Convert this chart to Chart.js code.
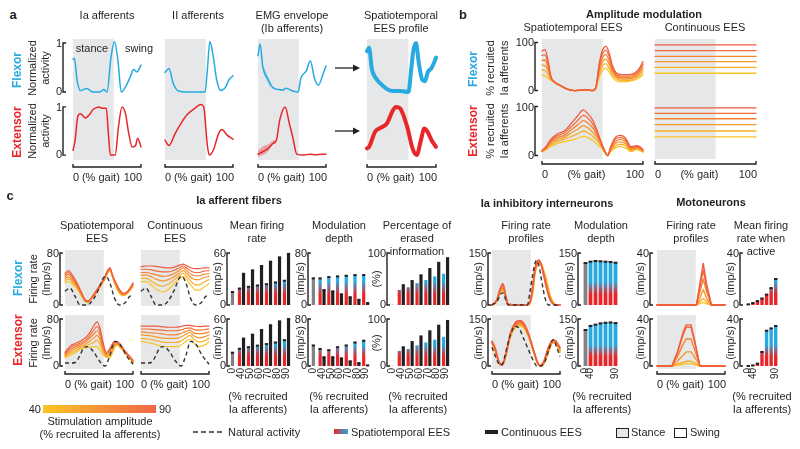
<!DOCTYPE html>
<html>
<head>
<meta charset="utf-8">
<script src="https://cdn.jsdelivr.net/npm/chart.js@4.4.1/dist/chart.umd.min.js"></script>
<style>
  body { margin: 0; width: 800px; height: 449px; position: relative; overflow: hidden; background: #fff;
         font-family: "Liberation Sans", Arial, Helvetica, sans-serif; color: #231F20; }
  canvas { position: absolute; }
  .t { position: absolute; font-size: 11px; line-height: 1; white-space: nowrap; }
  .box { position: absolute; }
</style>
</head>
<body>
<script>
const INK = '#231F20', BLUE = '#27AAE1', RED = '#E8262A', GRAY = '#808285', STANCE = '#E6E7E8';
const AMP_COLORS = ['#F9C423', '#F8AE27', '#F6982C', '#F48332', '#F26E39', '#F05A40']; // 40..90
const AMPS = ['0', '40', '50', '60', '70', '80', '90'];

// ---- panel a (normalized activity) ----
const GAIT_IA_F = [0, 2, 6, 11, 20, 30, 40, 45, 50, 56, 61, 66, 71, 77, 84, 89, 94, 100];
const IA_FLEX = [0.67, 0.69, 0.24, 0.03, 0.07, 0, 0, 0.05, 0, 0.72, 1.03, 0.65, 0, 0.1, 0.3, 0.46, 0.41, 0.55];
const GAIT_IA_E = [0, 3, 7, 11, 18, 23, 30, 38, 43, 49, 52, 55, 62, 67, 72, 77, 82, 87, 92, 95, 100];
const IA_EXT = [0.1, 0.3, 0.8, 0.86, 0.77, 0.82, 0.95, 1.0, 0.97, 0.97, 0.45, 0, 0, 0.6, 1.0, 0.87, 0.45, 0.17, 0.2, 0.35, 0.17];
const GAIT_II_F = [0, 6, 12, 20, 32, 59, 62, 66, 71, 76, 82, 89, 94, 100];
const II_FLEX = [0.4, 0.48, 0.18, 0.02, 0, 0, 0.4, 1.03, 0.72, 0.25, 0.03, 0.1, 0.25, 0.33];
const GAIT_II_E = [0, 6, 15, 22, 32, 42, 53, 57, 62, 65, 71, 79, 84, 91, 100];
const II_EXT = [0.31, 0.2, 0.45, 0.62, 0.83, 0.95, 1.05, 1.0, 0.24, 0, 0.1, 0.45, 0.53, 0.42, 0.33];
const GAIT_EMG_F = [0, 3, 7, 15, 22, 30, 37, 41, 51, 59, 63, 71, 77, 83, 89, 95, 100];
const EMG_FLEX = [0.74, 0.98, 0.52, 0.25, 0.09, 0.05, 0.04, 0.08, 0.02, 0, 0.28, 0.43, 0.64, 0.28, 0.14, 0.34, 0.53];
const GAIT_EMG_FB = [8, 11, 14, 17, 20];
const EMG_FLEX_HI = [0.52, 0.44, 0.34, 0.24, 0.14];
const EMG_FLEX_LO = [0.4, 0.3, 0.2, 0.12, 0.07];
const GAIT_EMG_E = [0, 7, 15, 22, 27, 32, 40, 46, 51, 57, 66, 76, 85, 100];
const EMG_EXT = [0.02, 0.07, 0.14, 0.24, 0.31, 0.73, 1.0, 0.66, 0.38, 0.02, 0, 0.02, 0.01, 0.02];
const GAIT_EMG_EB = [0, 5, 10, 15, 20, 25];
const EMG_EXT_HI = [0.1, 0.16, 0.2, 0.22, 0.28, 0.33];
const EMG_EXT_LO = [-0.04, -0.01, 0.02, 0.08, 0.2, 0.28];
const GAIT_ST_F = [0, 3, 7, 12, 19, 29, 38, 48, 60, 64, 67, 71, 75, 80, 84, 88, 94, 100];
const ST_FLEX = [0.83, 0.9, 0.47, 0.3, 0.18, 0.06, 0.02, 0.02, 0, 0.45, 0.83, 1.0, 0.6, 0.25, 0.22, 0.4, 0.5, 0.7];
const GAIT_ST_E = [0, 3, 12, 19, 29, 38, 42, 48, 58, 66, 72, 78, 83, 87, 94, 100];
const ST_EXT = [0.14, 0.17, 0.49, 0.56, 0.66, 0.94, 1.0, 0.97, 0.6, 0.14, 0, 0.3, 0.55, 0.5, 0.3, 0.17];

// ---- panel b (% recruited Ia afferents), rows = 40..90 ----
const B_GAIT_F = [0, 3, 6, 9, 13, 18, 25, 32, 40, 45, 50, 53, 57, 60, 63, 66, 70, 74, 80, 86, 92, 96, 100];
const B_ST_FLEX = [
  [33, 30, 26, 21, 16, 10, 3, 0, 1, 1, 0, 3, 30, 42, 47, 40, 27, 20, 18, 19, 22, 26, 33],
  [43, 41, 33, 23, 16, 10, 3, 0, 1, 1, 0, 3, 36, 51, 56, 48, 32, 24, 21, 21, 25, 30, 39],
  [53, 52, 41, 24, 16, 10, 3, 0, 1, 1, 0, 4, 42, 60, 66, 57, 37, 27, 24, 24, 28, 34, 45],
  [63, 63, 48, 26, 17, 11, 3, 0, 1, 1, 0, 4, 48, 68, 75, 65, 42, 30, 27, 27, 31, 38, 50],
  [73, 74, 55, 27, 17, 11, 3, 0, 1, 2, 0, 5, 54, 77, 84, 74, 46, 33, 30, 30, 34, 41, 55],
  [82, 85, 62, 28, 17, 11, 3, 0, 1, 2, 0, 5, 60, 85, 92, 82, 50, 36, 33, 33, 37, 45, 60],
];
const B_GAIT_E = [0, 4, 8, 15, 22, 28, 35, 41, 45, 50, 55, 59, 62, 65, 68, 73, 78, 83, 88, 94, 97, 100];
const B_ST_EXT = [
  [8, 12, 18, 24, 28, 31, 35, 39, 37, 31, 22, 15, 6, 0, 8, 16, 18, 15, 8, 12, 10, 7],
  [8, 13, 21, 28, 33, 38, 44, 50, 47, 40, 30, 18, 7, 0, 10, 20, 23, 20, 10, 14, 12, 8],
  [9, 14, 24, 32, 37, 45, 53, 61, 57, 48, 35, 20, 8, 0, 12, 25, 28, 24, 12, 15, 13, 9],
  [9, 16, 26, 36, 41, 51, 62, 71, 67, 57, 40, 22, 9, 0, 14, 29, 33, 28, 14, 17, 15, 10],
  [10, 17, 29, 40, 46, 57, 71, 82, 77, 65, 44, 24, 10, 0, 16, 34, 37, 31, 16, 18, 16, 11],
  [10, 18, 31, 44, 50, 63, 80, 93, 86, 73, 48, 25, 10, 0, 18, 38, 41, 35, 18, 20, 18, 12],
];
const B_CONT_FLEX = [36, 48, 60, 71, 83, 95];
const B_CONT_EXT = [38, 50, 63, 75, 86, 97];

// ---- panel c, Ia afferent firing rates (imp/s) ----
const NAT_GAIT_F = [0, 7, 15, 22, 32, 39, 49, 56, 60, 66, 73, 80, 88, 95, 100];
const NAT_FLEX = [21, 26, 13, 0, 0, 5, 23, 41, 44, 34, 10, 0, 3, 13, 15];
const NAT_GAIT_E = [0, 8, 15, 22, 27, 34, 42, 51, 59, 66, 73, 80, 90, 100];
const NAT_EXT = [5, 5, 6, 18, 30, 33, 24, 8, 0, 18, 42, 38, 18, 3];
const C_GAIT_SF = [0, 5, 12, 18, 24, 29, 34, 40, 46, 52, 58, 62, 66, 70, 74, 80, 86, 92, 100];
const C_ST_FLEX = [
  [34, 36, 31, 24, 14, 6, 4, 11, 19, 28, 38, 47, 53, 42, 30, 18, 14, 18, 28],
  [37, 40, 34, 26, 15, 6.5, 4, 11.5, 19.5, 29, 39, 48, 54, 43, 31.5, 19, 15, 18.5, 29.5],
  [40, 43, 36, 28, 16.5, 7, 4.5, 12, 20, 29.5, 39.5, 49, 55, 44, 33, 20.5, 15.5, 19, 31],
  [43, 47, 39, 29, 18, 7.5, 5, 12, 21, 30, 40, 50, 56, 44.5, 34, 22, 16.5, 20, 32],
  [46, 50, 41, 31, 19, 8, 5.5, 12.5, 21.5, 31, 41, 51, 56.5, 45, 35, 23, 17, 20.5, 33],
  [49, 53, 44, 33, 20, 9, 6, 13, 22, 32, 42, 52, 57, 46, 36, 24, 18, 21, 34],
];
const C_GAIT_SE = [0, 7, 14, 22, 30, 36, 42, 47, 51, 56, 61, 66, 71, 76, 82, 88, 94, 100];
const C_ST_EXT = [
  [14, 18, 22, 28, 31, 32, 33, 33, 28, 19, 15, 14, 26, 36, 30, 23, 14, 5],
  [16, 21, 25, 30, 34, 37, 40, 44, 38, 24, 16, 17, 28, 37, 31, 23, 15, 6],
  [17, 24, 29, 33, 37, 42, 47, 52, 46, 28, 17, 20, 31, 38, 33, 24, 15, 7],
  [19, 27, 32, 36, 41, 47, 54, 60, 53, 32, 19, 24, 34, 40, 34, 25, 16, 8],
  [21, 30, 35, 39, 44, 51, 61, 67, 60, 36, 21, 27, 37, 41, 35, 25, 17, 9],
  [23, 33, 38, 42, 48, 56, 68, 75, 66, 40, 23, 30, 40, 42, 36, 26, 18, 10],
];
const C_GAIT_CF = [0, 8, 16, 24, 32, 40, 48, 56, 62, 68, 74, 80, 86, 92, 100];
const C_CONT_FLEX = [
  [36, 36, 30, 23, 20, 24, 32, 40, 44, 38, 30, 23, 23, 27, 33],
  [41, 41, 36, 31, 29, 32, 38, 45, 49, 43, 36, 31, 31, 35, 39],
  [46, 46, 43, 39, 37, 39, 43, 49, 53, 48, 42, 39, 39, 42, 44],
  [50, 50, 48, 46, 44, 45, 48, 53, 57, 52, 47, 45, 45, 47, 48],
  [55, 55, 54, 52, 51, 51, 53, 57, 60, 56, 52, 50, 50, 52, 53],
  [59, 60, 60, 59, 58, 57, 58, 61, 63, 60, 57, 56, 56, 57, 57],
];
const C_GAIT_CE = [0, 10, 20, 30, 40, 50, 58, 66, 72, 78, 86, 94, 100];
const C_CONT_EXT = [
  [42, 40, 37, 34, 33, 33, 35, 42, 46, 39, 33, 36, 41],
  [47, 46, 44, 41, 40, 40, 42, 48, 52, 45, 41, 43, 47],
  [53, 52, 50, 48, 47, 47, 49, 54, 57, 51, 48, 50, 53],
  [58, 57, 56, 55, 53, 53, 55, 59, 61, 56, 55, 56, 58],
  [63, 63, 62, 61, 60, 60, 61, 64, 65, 62, 61, 62, 63],
  [68, 68, 68, 67, 66, 66, 67, 69, 69, 68, 67, 68, 68],
];

// bars: natural, spatiotemporal 40..90, continuous 40..90
const MFR_FLEX_NAT = 15, MFR_FLEX_ST = [19, 21, 22.5, 24, 26, 28], MFR_FLEX_CONT = [36, 40, 45, 50, 55, 59];
const MFR_EXT_NAT = 17, MFR_EXT_ST = [22, 24, 26, 28, 30, 33], MFR_EXT_CONT = [35, 40, 46, 52, 57, 60];
const MD_FLEX_NAT = 41, MD_FLEX_ST = [41, 43, 44, 45, 46, 46], MD_FLEX_CONT = [23, 21, 16.5, 12, 8, 3];
const MD_EXT_NAT = 35, MD_EXT_ST = [29, 27, 32, 35, 40, 43], MD_EXT_CONT = [15, 15, 13, 8, 5, 1];
const PEI_FLEX_NAT = 0.5, PEI_FLEX_ST = [29, 34, 42, 48, 55, 60], PEI_FLEX_CONT = [40, 48, 59, 71, 83, 92];
const PEI_EXT_NAT = 0.5, PEI_EXT_ST = [32, 36, 44, 50, 56, 62], PEI_EXT_CONT = [42, 53, 65, 76, 88, 98];

// ---- Ia inhibitory interneurons ----
const IN_NAT_GAIT_F = [0, 8, 12, 16, 21, 24, 52, 56, 60, 64, 66, 70, 73, 78, 83, 100];
const IN_NAT_FLEX = [0, 12, 30, 35, 10, 0, 0, 40, 90, 125, 128, 105, 70, 20, 0, 0];
const IN_GAIT_F = [0, 7, 12, 16, 20, 24, 40, 51, 57, 60, 63, 66, 69, 72, 76, 80, 84, 88, 94, 100];
const IN_FLEX = [
  [0, 10, 35, 40, 20, 0, 0, 0, 10, 35, 85, 110, 120, 121, 100, 75, 40, 15, 1, 0],
  [0, 11, 38, 44, 22, 1, 0, 0, 11, 40, 88, 113, 122, 121, 96, 67, 34, 13, 1, 0],
  [0, 12, 40, 48, 24, 1, 0, 0, 12, 45, 92, 115, 124, 121, 93, 62, 30, 11, 0, 0],
  [0, 13, 42, 53, 26, 1, 0, 0, 14, 50, 96, 118, 126, 120, 90, 57, 27, 9, 0, 0],
  [0, 14, 45, 57, 28, 2, 0, 0, 16, 55, 100, 121, 128, 119, 87, 53, 24, 7, 0, 0],
  [0, 15, 48, 62, 30, 2, 0, 0, 18, 60, 105, 125, 130, 118, 85, 50, 22, 6, 0, 0],
];
const IN_NAT_GAIT_E = [0, 6, 12, 16, 22, 28, 34, 40, 46, 52, 58, 63, 66, 72, 78, 84, 90, 95, 100];
const IN_NAT_EXT = [60, 25, 3, 10, 60, 105, 127, 120, 90, 60, 30, 8, 0, 0, 15, 55, 85, 60, 30];
const IN_GAIT_E = [0, 5, 10, 15, 20, 27, 34, 41, 48, 55, 62, 67, 71, 76, 82, 88, 93, 97, 100];
const IN_EXT = [
  [70, 45, 10, 2, 28, 92, 122, 128, 118, 85, 38, 8, 0, 5, 35, 70, 75, 60, 42],
  [72, 47, 11, 2, 29, 94, 124, 131, 121, 87, 39, 9, 0, 7, 40, 72, 77, 62, 46],
  [74, 49, 12, 2, 30, 97, 127, 134, 123, 89, 41, 10, 0, 9, 45, 74, 79, 64, 50],
  [76, 51, 13, 2, 32, 99, 130, 138, 126, 91, 42, 10, 1, 11, 49, 76, 80, 66, 54],
  [78, 53, 14, 3, 33, 102, 134, 141, 129, 93, 44, 11, 1, 13, 52, 78, 81, 68, 57],
  [80, 55, 15, 3, 35, 105, 138, 145, 132, 95, 45, 12, 2, 15, 55, 80, 82, 70, 60],
];
const IN_MD_FLEX_NAT = 121, IN_MD_FLEX_ST = [125, 127, 126, 125, 124, 122];
const IN_MD_EXT_NAT = 115, IN_MD_EXT_ST = [128, 132, 136, 138, 139, 137];

// ---- motoneurons ----
const MN_GAIT_F = [0, 58, 63, 68, 73, 80, 100];
const MN_FLEX = [
  [0, 0, 1, 2, 1, 0, 0],
  [0, 0, 2.5, 5, 2.5, 0, 0],
  [0, 0, 5, 12, 5, 0, 0],
  [0, 0, 10, 20, 10, 0, 0],
  [0, 0, 13, 27, 13, 0, 0],
  [0, 0, 16, 32, 16, 0, 0],
];
const MN_GAIT_E = [0, 22, 30, 38, 43, 50, 56, 63, 100];
const MN_EXT = [
  [0, 0, 0.5, 1.5, 2, 2, 1, 0, 0],
  [0, 0, 1.5, 3, 4, 4, 2.5, 0, 0],
  [0, 0, 4, 9, 12, 12, 7, 0, 0],
  [0, 0, 8, 18, 23, 23, 13, 0, 0],
  [0, 0, 11, 26, 33, 33, 19, 0, 0],
  [0, 0, 12, 28, 35, 35, 20, 0, 0],
];
const MN_MFR_FLEX_NAT = 0.5, MN_MFR_FLEX_ST = [1.5, 3, 5, 8, 13, 20];
const MN_MFR_EXT_NAT = 0, MN_MFR_EXT_ST = [0.5, 2, 12, 30, 32, 34];

const FONT = '"Liberation Sans", Arial, sans-serif';

const deco = {
  id: 'deco',
  beforeDatasetsDraw(chart, args, o) {
    if (o.stance == null) return;
    const { ctx, chartArea: a } = chart, x = chart.scales.x;
    const l = x.getPixelForValue(0), r = x.getPixelForValue(o.stance);
    ctx.save();
    ctx.fillStyle = STANCE;
    ctx.fillRect(l, a.top - o.up, r - l, a.bottom - a.top + o.up + o.down);
    ctx.restore();
  },
  afterDatasetsDraw(chart, args, o) {
    if (!o.caps) return;
    const ctx = chart.ctx;
    ctx.save();
    ctx.fillStyle = INK;
    chart.data.datasets.forEach((ds, i) => {
      chart.getDatasetMeta(i).data.forEach((el, j) => {
        if (ds.data[j] == null) return;
        ctx.fillRect(el.x - el.width / 2, el.y - 1, el.width, 2);
      });
    });
    ctx.restore();
  },
  afterDraw(chart, args, o) {
    const { ctx, chartArea: a } = chart, { x, y } = chart.scales;
    ctx.save();
    ctx.strokeStyle = INK;
    ctx.fillStyle = INK;
    ctx.lineWidth = 1.4;
    ctx.font = '11px ' + FONT;
    if (o.yb) {
      const bx = a.left - o.yb.gap;
      const hi = o.yb.ticks[0], lo = o.yb.ticks[1];
      const ph = y.getPixelForValue(hi), pl = y.getPixelForValue(lo);
      ctx.beginPath();
      ctx.moveTo(bx + 3, ph); ctx.lineTo(bx, ph); ctx.lineTo(bx, pl); ctx.lineTo(bx + 3, pl);
      ctx.stroke();
      ctx.textAlign = 'right';
      ctx.textBaseline = 'middle';
      ctx.fillText(String(hi), bx - 1, ph + 1);
      ctx.fillText(String(lo), bx - 1, pl);
    }
    if (o.xb) {
      const l = x.getPixelForValue(0), r = x.getPixelForValue(100), by = a.bottom + o.xb;
      ctx.beginPath();
      ctx.moveTo(l, by - 3); ctx.lineTo(l, by); ctx.lineTo(r, by); ctx.lineTo(r, by - 3);
      ctx.stroke();
      ctx.textBaseline = 'middle';
      const ty = by + 10.5;
      const w0 = ctx.measureText('0').width, w1 = ctx.measureText('100').width;
      ctx.textAlign = 'left'; ctx.fillText('0', l, ty);
      ctx.textAlign = 'center'; ctx.fillText('(% gait)', (l + w0 + r - w1) / 2, ty);
      ctx.textAlign = 'right'; ctx.fillText('100', r + 1, ty);
    }
    if (o.xc) {
      ctx.font = '10px ' + FONT;
      ctx.textAlign = 'right';
      ctx.textBaseline = 'middle';
      o.xc.forEach(i => {
        ctx.save();
        ctx.translate(x.getPixelForValue(i), a.bottom + 2);
        ctx.rotate(-Math.PI / 2);
        ctx.fillText(AMPS[i], 0, 0);
        ctx.restore();
      });
    }
    ctx.restore();
  },
};

const pts = (g, v) => g.map((x, i) => ({ x, y: v[i] }));
const line = (g, v, color, w = 1.3, extra = {}) => ({
  data: pts(g, v), borderColor: color, borderWidth: w, pointRadius: 0, fill: false,
  cubicInterpolationMode: 'monotone', clip: false, borderJoinStyle: 'round', borderCapStyle: 'round', ...extra,
});
const natural = (g, v) => line(g, v, '#333', 1.4, { borderDash: [4, 3], borderCapStyle: 'butt' });
const ampLines = (g, rows, w = 1.2, extra = {}) => rows.map((v, i) => line(g, v, AMP_COLORS[i], w, extra)).reverse();
const flatLines = rows => rows.map((v, i) => line([0, 100], [v, v], AMP_COLORS[i], 1.3)).reverse();
const band = (g, hi, lo, color) => [
  { data: pts(g, hi), borderWidth: 0, pointRadius: 0, fill: '+1', backgroundColor: color, cubicInterpolationMode: 'monotone' },
  { data: pts(g, lo), borderWidth: 0, pointRadius: 0, fill: false, cubicInterpolationMode: 'monotone' },
];

const redBlue = c => {
  const a = c.chart.chartArea;
  if (!a) return BLUE;
  const g = c.chart.ctx.createLinearGradient(0, a.bottom, 0, a.top);
  g.addColorStop(0, RED); g.addColorStop(0.2, RED); g.addColorStop(0.45, BLUE); g.addColorStop(1, BLUE);
  return g;
};
function barSets(nat, st, cont) {
  const sets = [
    { data: [nat, ...st.map(() => null)], backgroundColor: GRAY },
    { data: [null, ...st], backgroundColor: redBlue },
  ];
  if (cont) sets.push({ data: [null, ...cont], backgroundColor: INK });
  return sets;
}

function mk(x0, y0, x1, y1, type, datasets, o) {
  const P = { left: 48, right: 6, top: 8, bottom: 32 };
  const c = document.createElement('canvas');
  c.width = x1 - x0 + P.left + P.right;
  c.height = y1 - y0 + P.top + P.bottom;
  c.style.left = (x0 - P.left) + 'px';
  c.style.top = (y0 - P.top) + 'px';
  document.body.appendChild(c);
  const bar = type === 'bar';
  new Chart(c, {
    type,
    data: bar ? { labels: AMPS, datasets } : { datasets },
    options: {
      responsive: false, animation: false, events: [],
      layout: { padding: P },
      datasets: { bar: { skipNull: true, maxBarThickness: o.bw || 3.2, categoryPercentage: 0.9, barPercentage: 0.85 } },
      scales: {
        x: bar ? { display: false } : { type: 'linear', display: false, min: 0, max: 100 },
        y: { display: false, min: o.ymin == null ? 0 : o.ymin, max: o.ymax },
      },
      plugins: { legend: { display: false }, tooltip: { enabled: false }, deco: o },
    },
    plugins: [deco],
  });
}

// ---- panel a ----
const AF = { ymin: -0.06, ymax: 1.06, stance: 60, up: 1, down: 5 };
const AE = { ymin: -0.06, ymax: 1.06, stance: 60, up: 4, down: 2, xb: 9 };
const YB1 = { gap: 10, ticks: [1, 0] };
mk(73, 40, 141, 95, 'line', [line(GAIT_IA_F, IA_FLEX, BLUE, 1.5)], { ...AF, yb: YB1 });
mk(73, 104, 141, 158, 'line', [line(GAIT_IA_E, IA_EXT, RED, 1.5)], { ...AE, yb: YB1 });
mk(165, 40, 233, 95, 'line', [line(GAIT_II_F, II_FLEX, BLUE, 1.5)], AF);
mk(165, 104, 233, 158, 'line', [line(GAIT_II_E, II_EXT, RED, 1.5)], AE);
mk(258, 40, 326, 95, 'line', [line(GAIT_EMG_F, EMG_FLEX, BLUE, 1.5), ...band(GAIT_EMG_FB, EMG_FLEX_HI, EMG_FLEX_LO, 'rgba(39,170,225,0.4)')], AF);
mk(258, 104, 326, 158, 'line', [line(GAIT_EMG_E, EMG_EXT, RED, 1.5), ...band(GAIT_EMG_EB, EMG_EXT_HI, EMG_EXT_LO, 'rgba(232,38,42,0.35)')], AE);
mk(367, 40, 436, 95, 'line', [line(GAIT_ST_F, ST_FLEX, BLUE, 4)], AF);
mk(367, 104, 436, 158, 'line', [line(GAIT_ST_E, ST_EXT, RED, 4)], AE);

// ---- panel b ----
const BF = { ymin: -3, ymax: 103, stance: 60, up: 2, down: 7 };
const BE = { ymin: -3, ymax: 103, stance: 60, up: 6, down: 2, xb: 7 };
const YB2 = { gap: 7, ticks: [100, 0] };
mk(542, 41, 643, 92, 'line', ampLines(B_GAIT_F, B_ST_FLEX, 1.3), { ...BF, yb: YB2 });
mk(542, 105, 643, 157, 'line', ampLines(B_GAIT_E, B_ST_EXT, 1.3), { ...BE, yb: YB2 });
mk(655, 41, 756, 92, 'line', flatLines(B_CONT_FLEX), BF);
mk(655, 105, 756, 157, 'line', flatLines(B_CONT_EXT), BE);

// ---- panel c ----
const RF = { y0: 253, y1: 305, up: 3, down: 1 };
const RE = { y0: 319, y1: 366, up: 4, down: 3 };
for (const [r, flex] of [[RF, true], [RE, false]]) {
  const xb = flex ? undefined : 8;
  const xc = flex ? undefined : [0, 1, 2, 3, 4, 5, 6];
  const xc3 = flex ? undefined : [0, 1, 6];
  const base = { up: r.up, down: r.down, stance: 57, xb };
  mk(65, r.y0, 133, r.y1, 'line',
    [natural(flex ? NAT_GAIT_F : NAT_GAIT_E, flex ? NAT_FLEX : NAT_EXT), ...ampLines(flex ? C_GAIT_SF : C_GAIT_SE, flex ? C_ST_FLEX : C_ST_EXT)],
    { ...base, ymax: 80, yb: { gap: 5, ticks: [80, 0] } });
  mk(141, r.y0, 209, r.y1, 'line',
    [natural(flex ? NAT_GAIT_F : NAT_GAIT_E, flex ? NAT_FLEX : NAT_EXT), ...ampLines(flex ? C_GAIT_CF : C_GAIT_CE, flex ? C_CONT_FLEX : C_CONT_EXT)],
    { ...base, ymax: 80 });
  mk(228, r.y0, 291, r.y1, 'bar',
    flex ? barSets(MFR_FLEX_NAT, MFR_FLEX_ST, MFR_FLEX_CONT) : barSets(MFR_EXT_NAT, MFR_EXT_ST, MFR_EXT_CONT),
    { ymax: 60, caps: true, xc, yb: { gap: 1, ticks: [60, 0] } });
  mk(309, r.y0, 370, r.y1, 'bar',
    flex ? barSets(MD_FLEX_NAT, MD_FLEX_ST, MD_FLEX_CONT) : barSets(MD_EXT_NAT, MD_EXT_ST, MD_EXT_CONT),
    { ymax: 80, caps: true, xc, yb: { gap: 1, ticks: [80, 0] } });
  mk(388, r.y0, 450, r.y1, 'bar',
    flex ? barSets(PEI_FLEX_NAT, PEI_FLEX_ST, PEI_FLEX_CONT) : barSets(PEI_EXT_NAT, PEI_EXT_ST, PEI_EXT_CONT),
    { ymax: 100, xc, yb: { gap: 1, ticks: [100, 0] } });
  mk(492, r.y0, 560, r.y1, 'line',
    [natural(flex ? IN_NAT_GAIT_F : IN_NAT_GAIT_E, flex ? IN_NAT_FLEX : IN_NAT_EXT), ...ampLines(flex ? IN_GAIT_F : IN_GAIT_E, flex ? IN_FLEX : IN_EXT, 1.4)],
    { ...base, ymax: 150, yb: { gap: 4, ticks: [150, 0] } });
  mk(583, r.y0, 618, r.y1, 'bar',
    flex ? barSets(IN_MD_FLEX_NAT, IN_MD_FLEX_ST) : barSets(IN_MD_EXT_NAT, IN_MD_EXT_ST),
    { ymax: 150, bw: 3.8, caps: true, xc: xc3, yb: { gap: 5, ticks: [150, 0] } });
  mk(657, r.y0, 725, r.y1, 'line',
    ampLines(flex ? MN_GAIT_F : MN_GAIT_E, flex ? MN_FLEX : MN_EXT, 1.4, { cubicInterpolationMode: 'default', tension: 0 }),
    { ...base, ymax: 40, yb: { gap: 7, ticks: [40, 0] } });
  mk(746, r.y0, 778, r.y1, 'bar',
    flex ? barSets(MN_MFR_FLEX_NAT, MN_MFR_FLEX_ST) : barSets(MN_MFR_EXT_NAT, MN_MFR_EXT_ST),
    { ymax: 40, bw: 3.4, caps: true, xc: xc3, yb: { gap: 6, ticks: [40, 0] } });
}

// ---- texts ----
function T(s, x, y, o = {}) {
  const d = document.createElement('div');
  d.className = 't';
  d.textContent = s;
  d.style.left = x + 'px';
  d.style.top = y + 'px';
  if (o.s) d.style.fontSize = o.s + 'px';
  if (o.b) d.style.fontWeight = 'bold';
  if (o.c) d.style.color = o.c;
  const tx = o.a === 'l' ? '0' : o.a === 'r' ? '-100%' : '-50%';
  d.style.transform = `translate(${tx},-50%)` + (o.r ? ' rotate(-90deg)' : '');
  document.body.appendChild(d);
}
function box(x, y, w, h, css) {
  const d = document.createElement('div');
  d.className = 'box';
  Object.assign(d.style, { left: x + 'px', top: y + 'px', width: w + 'px', height: h + 'px' }, css);
  document.body.appendChild(d);
}

T('a', 13, 14, { b: 1, s: 13 });
T('Ia afferents', 107, 15);
T('II afferents', 198, 15);
T('EMG envelope', 292, 15); T('(Ib afferents)', 292, 28);
T('Spatiotemporal', 401, 15); T('EES profile', 401, 28);
T('stance', 92, 48); T('swing', 139, 48);
T('Flexor', 17, 70, { b: 1, c: BLUE, r: 1, s: 12 });
T('Normalized', 32, 68, { r: 1 }); T('activity', 45, 68, { r: 1 });
T('Extensor', 17, 132, { b: 1, c: RED, r: 1, s: 12 });
T('Normalized', 32, 131, { r: 1 }); T('activity', 45, 131, { r: 1 });

T('b', 463, 14, { b: 1, s: 13 });
T('Amplitude modulation', 644, 14, { b: 1 });
T('Spatiotemporal EES', 573, 27); T('Continuous EES', 705, 27);
T('Flexor', 473, 69, { b: 1, c: BLUE, r: 1, s: 12 });
T('% recruited', 490, 68, { r: 1 }); T('Ia afferents', 504, 68, { r: 1 });
T('Extensor', 473, 131, { b: 1, c: RED, r: 1, s: 12 });
T('% recruited', 490, 131, { r: 1 }); T('Ia afferents', 504, 131, { r: 1 });

T('c', 10, 195, { b: 1, s: 13 });
T('Ia afferent fibers', 239, 200, { b: 1 });
T('Ia inhibitory interneurons', 547, 203, { b: 1 });
T('Motoneurons', 711, 202, { b: 1 });
T('Spatiotemporal', 97, 225); T('EES', 97, 238);
T('Continuous', 175, 225); T('EES', 175, 238);
T('Mean firing', 257, 225); T('rate', 257, 238);
T('Modulation', 339, 225); T('depth', 339, 238);
T('Percentage of', 417, 225); T('erased', 417, 238); T('information', 417, 251);
T('Firing rate', 526, 225); T('profiles', 526, 238);
T('Modulation', 601, 225); T('depth', 601, 238);
T('Firing rate', 691, 225); T('profiles', 691, 238);
T('Mean firing', 761, 225); T('rate when', 761, 238); T('active', 761, 251);

T('Flexor', 18, 278, { b: 1, c: BLUE, r: 1, s: 12 });
T('Extensor', 18, 340, { b: 1, c: RED, r: 1, s: 12 });
for (const cy of [279, 343]) {
  T('Firing rate', 33, cy, { r: 1 }); T('(Imp/s)', 46, cy, { r: 1 });
  for (const cx of [217, 300, 478, 569, 640, 730]) T('(imp/s)', cx, cy, { r: 1 });
  T('(%)', 376, cy, { r: 1 });
}
for (const cx of [258, 339, 418, 602, 762]) {
  T('(% recruited', cx, 396); T('Ia afferents)', cx, 409);
}

// legend
box(43, 405, 113, 8, { background: 'linear-gradient(to right, #F9C423, #F26649)' });
T('40', 41, 409, { a: 'r' }); T('90', 159, 409, { a: 'l' });
T('Stimulation amplitude', 100, 421); T('(% recruited Ia afferents)', 100, 434);
const svg = document.createElementNS('http://www.w3.org/2000/svg', 'svg');
svg.setAttribute('width', 800); svg.setAttribute('height', 449);
svg.style.position = 'absolute'; svg.style.left = '0'; svg.style.top = '0';
svg.innerHTML =
  '<line x1="193" y1="432" x2="223" y2="432" stroke="#333" stroke-width="1.5" stroke-dasharray="5,3"/>' +
  '<line x1="335" y1="68" x2="354" y2="68" stroke="#231F20" stroke-width="1.3"/>' +
  '<polygon points="353,64.5 360,68 353,71.5" fill="#231F20"/>' +
  '<line x1="335" y1="131" x2="354" y2="131" stroke="#231F20" stroke-width="1.3"/>' +
  '<polygon points="353,127.5 360,131 353,134.5" fill="#231F20"/>';
document.body.appendChild(svg);
T('Natural activity', 228, 432, { a: 'l' });
box(334, 429, 14, 5, { background: 'linear-gradient(to right, #E8262A, #27AAE1)' });
T('Spatiotemporal EES', 351, 432, { a: 'l' });
box(485, 430, 13, 4, { background: INK });
T('Continuous EES', 501, 432, { a: 'l' });
box(616, 428, 11, 8, { background: STANCE, border: '1px solid #231F20' });
T('Stance', 631, 432, { a: 'l' });
box(674, 428, 11, 8, { background: '#fff', border: '1px solid #231F20' });
T('Swing', 690, 432, { a: 'l' });
</script>
</body>
</html>
